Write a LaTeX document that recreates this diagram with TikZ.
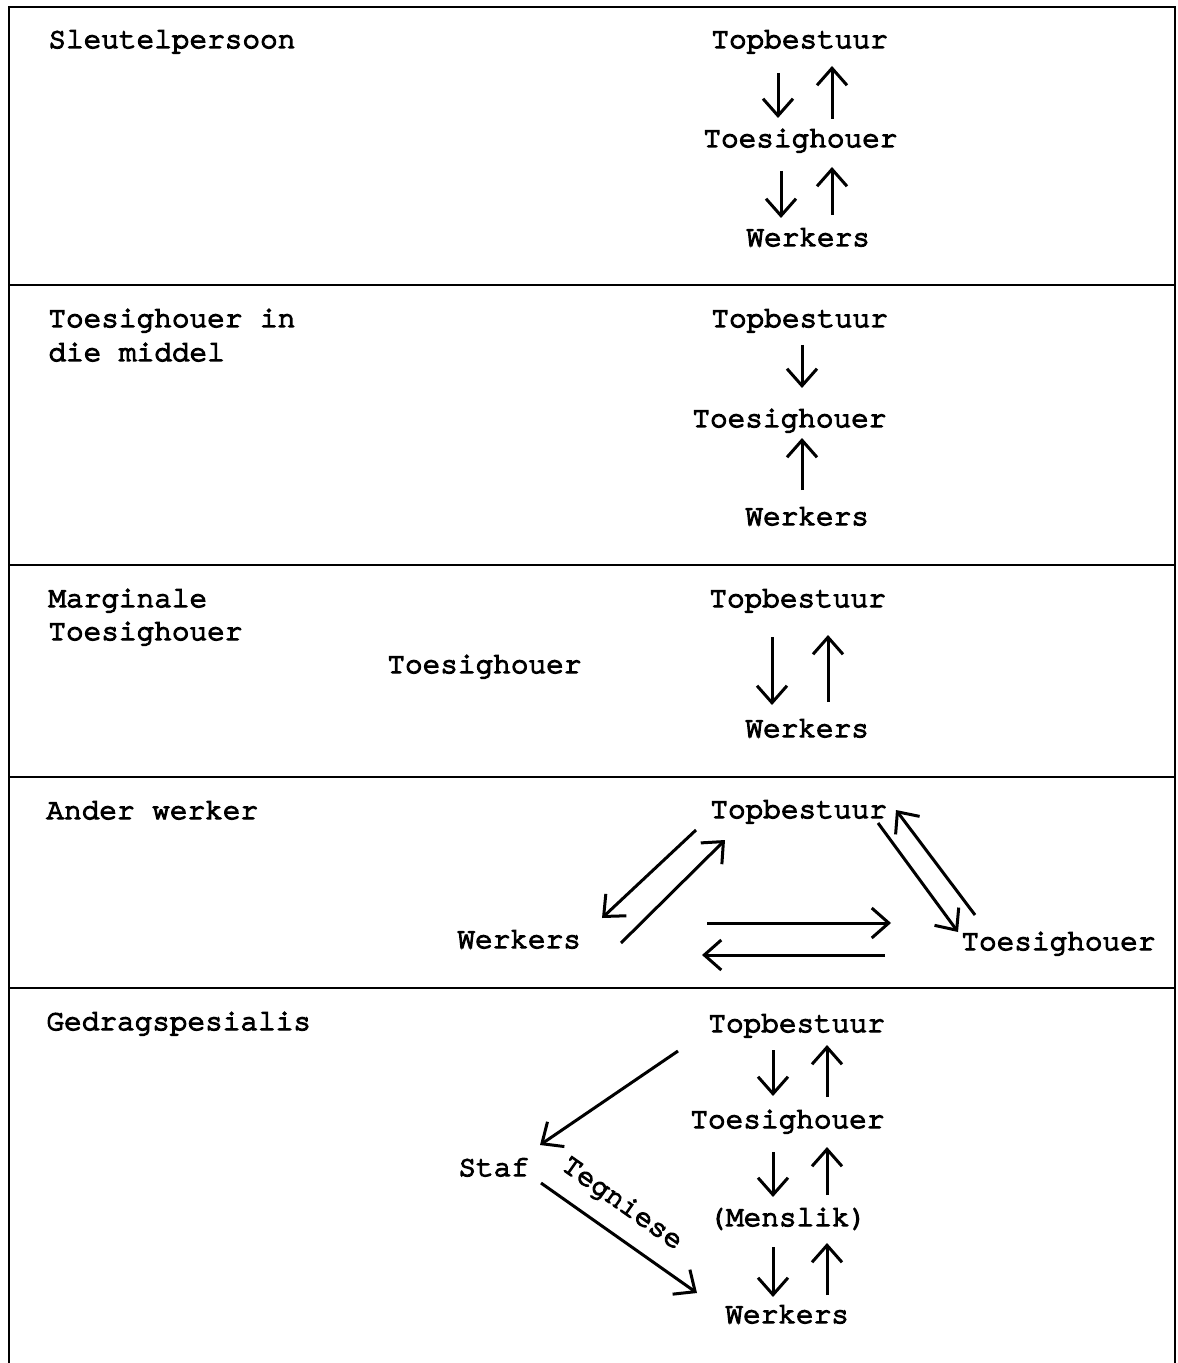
\documentclass[tikz,border=0pt]{standalone}
\usepackage{fontspec}
\newfontfamily\tw[FakeBold=4.5]{TeX Gyre Cursor}
\usetikzlibrary{arrows.meta,calc}
\begin{document}
\begin{tikzpicture}[x=0.5pt,y=-0.5pt,
  txt/.style={anchor=base west,inner sep=0pt,font={\tw\fontsize{14.7pt}{17pt}\selectfont}},
  arr/.style={line width=1.5pt,-{Straight Barb[length=8.5pt,width=15pt]}},
  rule/.style={line width=1.3pt}]
\useasboundingbox (0,0) rectangle (1177,1363);
\fill[white] (0,0) rectangle (1177,1363);
% table rules
\draw[rule] (9,1363) -- (9,7) -- (1175,7) -- (1175,1363);
\draw[rule] (9,285) -- (1175,285);
\draw[rule] (9,565) -- (1175,565);
\draw[rule] (9,777) -- (1175,777);
\draw[rule] (9,988) -- (1175,988);

% Row 1
\node[txt] (L1) at (48,48) {Sleutelpersoon};
\node[txt] (A1) at (711,48) {Topbestuur};
\node[txt] (B1) at (703,147) {Toesighouer};
\node[txt] (C1) at (746,246) {Werkers};
\draw[arr] ($(A1.base west)+(67,25)$) -- ($(B1.base west)+(75,-29)$);
\draw[arr] ($(B1.base west)+(129,-28)$) -- ($(A1.base west)+(121,18)$);
\draw[arr] ($(B1.base west)+(78,24)$) -- ($(C1.base west)+(35,-28)$);
\draw[arr] ($(C1.base west)+(86,-31)$) -- ($(B1.base west)+(129,20)$);

% Row 2
\node[txt] (L2a) at (48,327) {Toesighouer in};
\node[txt] (L2b) at (48,361) {die middel};
\node[txt] (A2) at (711,327) {Topbestuur};
\node[txt] (B2) at (692,427) {Toesighouer};
\node[txt] (C2) at (745,525) {Werkers};
\draw[arr] ($(A2.base west)+(91,18)$) -- ($(B2.base west)+(110,-39)$);
\draw[arr] ($(C2.base west)+(57,-35)$) -- ($(B2.base west)+(110,11)$);

% Row 3
\node[txt] (L3a) at (48,607) {Marginale};
\node[txt] (L3b) at (48,640) {Toesighouer};
\node[txt] (M3) at (387,673) {Toesighouer};
\node[txt] (A3) at (709,607) {Topbestuur};
\node[txt] (C3) at (745,737) {Werkers};
\draw[arr] ($(A3.base west)+(63,30)$) -- ($(C3.base west)+(27,-32)$);
\draw[arr] ($(C3.base west)+(83,-35)$) -- ($(A3.base west)+(119,28)$);

% Row 4
\node[txt] (L4) at (46,819) {Ander werker};
\node[txt] (A4) at (710,818) {Topbestuur};
\node[txt] (W4) at (457,948) {Werkers};
\node[txt] (T4) at (961,950) {Toesighouer};
\draw[arr] ($(A4.base west)+(-14,12)$) -- ($(W4.base west)+(145,-30)$);
\draw[arr] ($(W4.base west)+(164,-5)$) -- ($(A4.base west)+(15,22)$);
\draw[arr] ($(A4.base west)+(168,5)$) -- ($(T4.base west)+(-3,-18)$);
\draw[arr] ($(T4.base west)+(14,-35)$) -- ($(A4.base west)+(186,-8)$);
\draw[arr] ($(W4.base west)+(250,-25)$) -- ($(T4.base west)+(-70,-27)$);
\draw[arr] ($(T4.base west)+(-76,5)$) -- ($(W4.base west)+(245,7)$);

% Row 5
\node[txt] (L5) at (46,1030) {Gedragspesialis};
\node[txt] (A5) at (708,1032) {Topbestuur};
\node[txt] (B5) at (690,1128) {Toesighouer};
\node[txt] (M5) at (708,1226) {(Menslik)};
\node[txt] (C5) at (725,1323) {Werkers};
\node[txt] (S5) at (458,1176) {Staf};
\draw[arr] ($(A5.base west)+(65,18)$) -- ($(B5.base west)+(83,-32)$);
\draw[arr] ($(B5.base west)+(137,-31)$) -- ($(A5.base west)+(119,13)$);
\draw[arr] ($(B5.base west)+(83,24)$) -- ($(M5.base west)+(65,-29)$);
\draw[arr] ($(M5.base west)+(119,-31)$) -- ($(B5.base west)+(137,19)$);
\draw[arr] ($(M5.base west)+(65,21)$) -- ($(C5.base west)+(48,-26)$);
\draw[arr] ($(C5.base west)+(102,-28)$) -- ($(M5.base west)+(119,17)$);
\draw[arr] ($(A5.base west)+(-30,19)$) -- ($(S5.base west)+(82,-31)$);
\draw[arr] ($(S5.base west)+(83,7)$) -- ($(C5.base west)+(-28,-30)$)
  node[pos=0.41,sloped,above=8pt,inner sep=0pt,font={\tw\fontsize{14.7pt}{17pt}\selectfont}] (G5) {Tegniese};
\end{tikzpicture}
\end{document}
